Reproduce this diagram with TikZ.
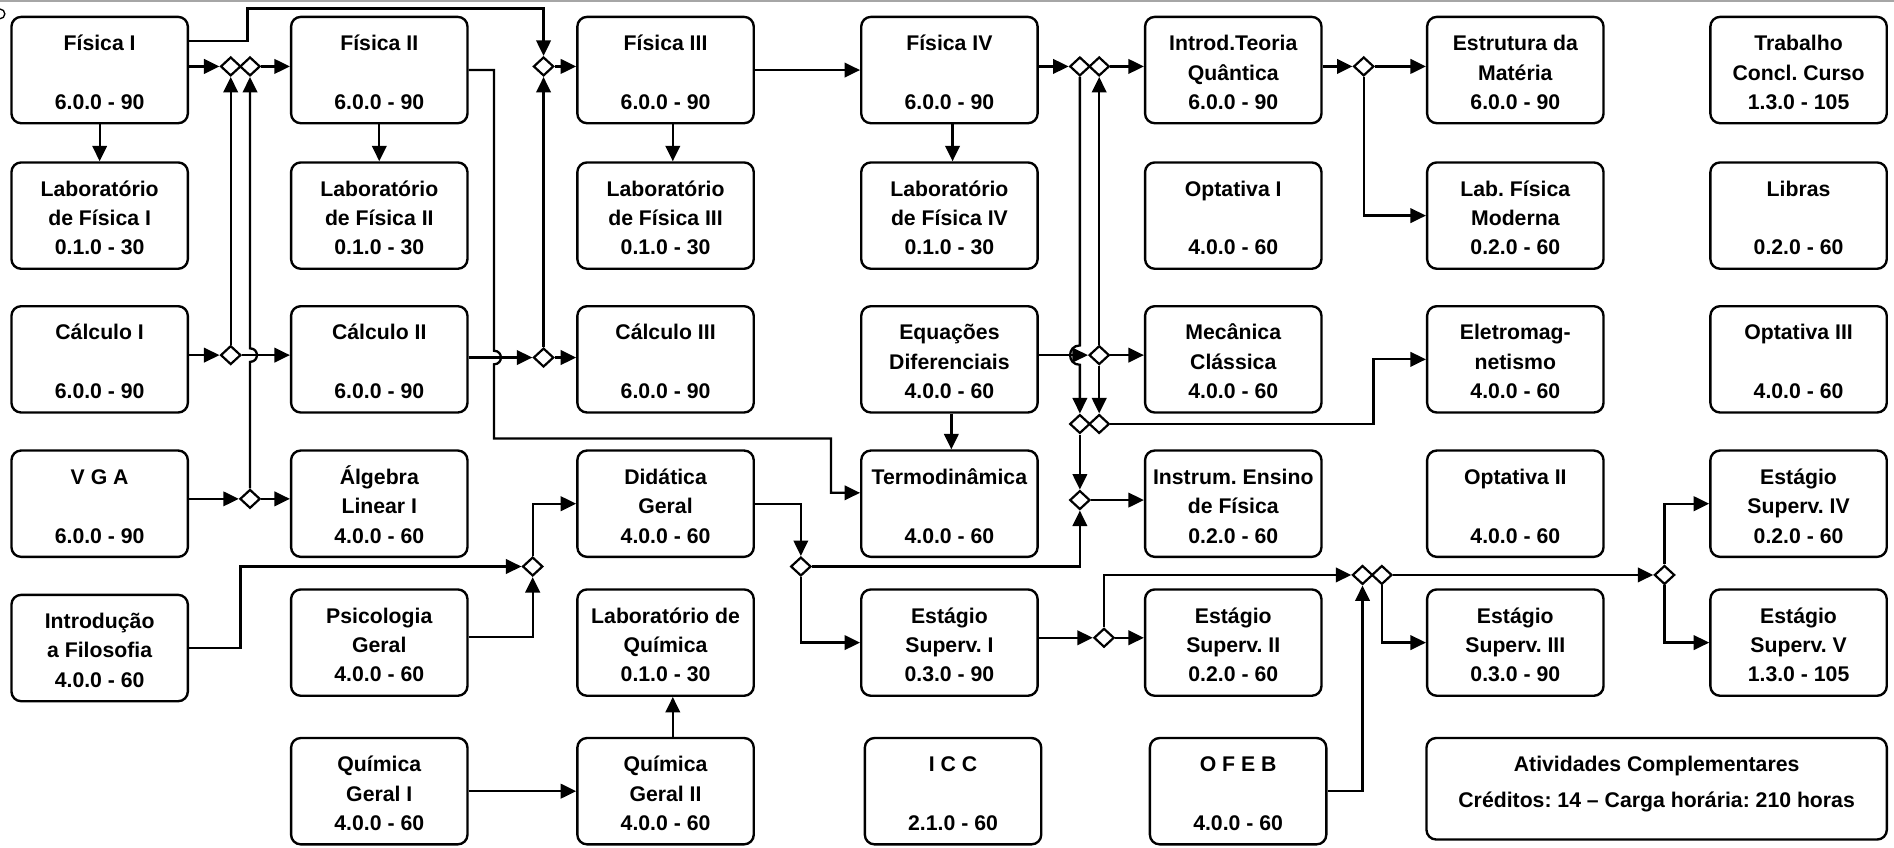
\documentclass[tikz,border=0pt]{standalone}
\usepackage{fontspec}
\setmainfont{Liberation Sans}
\usetikzlibrary{arrows.meta,shapes.geometric,calc}
\newcommand\threel[3]{\begin{tabular}{@{}c@{}}\rule{0pt}{16.9pt}#1\\#2\\#3\end{tabular}}
\tikzset{
  box/.style={draw, rounded corners=0.2cm, line width=1.4pt, minimum width=3.65cm, minimum height=2.2cm, inner sep=0pt, fill=white, font=\fontsize{12.5}{17.3}\selectfont\bfseries\frenchspacing},
  dm/.style={draw, diamond, fill=white, line width=1.3pt, minimum width=0.42cm, minimum height=0.39cm, inner sep=0pt},
  arr/.style={line width=1.35pt, -{Triangle[length=0.32cm,width=0.3cm]}},
}
\begin{document}
\frenchspacing
\begin{tikzpicture}[x=0.025cm, y=-0.025cm]
\useasboundingbox (0,0) rectangle (1568,702);
\fill[white] (0,0) rectangle (1568,702);
\fill[gray!70] (0,0) rectangle (1568,1.4);
\draw[line width=0.8pt] (0,11.5) circle (0.1cm);

% Row A
\node[box] (fis1) at (82.5,58) {\threel{Física I}{}{6.0.0 - 90}};
\node[box] (fis2) at (314,58) {\threel{Física II}{}{6.0.0 - 90}};
\node[box] (fis3) at (551,58) {\threel{Física III}{}{6.0.0 - 90}};
\node[box] (fis4) at (786,58) {\threel{Física IV}{}{6.0.0 - 90}};
\node[box] (itq) at (1021,58) {\threel{Introd.Teoria}{Quântica}{6.0.0 - 90}};
\node[box] (estm) at (1254.5,58) {\threel{Estrutura da}{Matéria}{6.0.0 - 90}};
\node[box] (tcc) at (1489,58) {\threel{Trabalho}{Concl. Curso}{1.3.0 - 105}};
% Row B
\node[box] (lab1) at (82.5,178.5) {\threel{Laboratório}{de Física I}{0.1.0 - 30}};
\node[box] (lab2) at (314,178.5) {\threel{Laboratório}{de Física II}{0.1.0 - 30}};
\node[box] (lab3) at (551,178.5) {\threel{Laboratório}{de Física III}{0.1.0 - 30}};
\node[box] (lab4) at (786,178.5) {\threel{Laboratório}{de Física IV}{0.1.0 - 30}};
\node[box] (opt1) at (1021,178.5) {\threel{Optativa I}{}{4.0.0 - 60}};
\node[box] (labfm) at (1254.5,178.5) {\threel{Lab. Física}{Moderna}{0.2.0 - 60}};
\node[box] (libras) at (1489,178.5) {\threel{Libras}{}{0.2.0 - 60}};
% Row C
\node[box] (calc1) at (82.5,297.5) {\threel{Cálculo I}{}{6.0.0 - 90}};
\node[box] (calc2) at (314,297.5) {\threel{Cálculo II}{}{6.0.0 - 90}};
\node[box] (calc3) at (551,297.5) {\threel{Cálculo III}{}{6.0.0 - 90}};
\node[box] (eqd) at (786,297.5) {\threel{Equações}{Diferenciais}{4.0.0 - 60}};
\node[box] (mec) at (1021,297.5) {\threel{Mecânica}{Clássica}{4.0.0 - 60}};
\node[box] (elet) at (1254.5,297.5) {\threel{Eletromag-}{netismo}{4.0.0 - 60}};
\node[box] (opt3) at (1489,297.5) {\threel{Optativa III}{}{4.0.0 - 60}};
% Row D
\node[box] (vga) at (82.5,417) {\threel{V G A}{}{6.0.0 - 90}};
\node[box] (alg) at (314,417) {\threel{Álgebra}{Linear I}{4.0.0 - 60}};
\node[box] (did) at (551,417) {\threel{Didática}{Geral}{4.0.0 - 60}};
\node[box] (termo) at (786,417) {\threel{Termodinâmica}{}{4.0.0 - 60}};
\node[box] (inst) at (1021,417) {\threel{Instrum. Ensino}{de Física}{0.2.0 - 60}};
\node[box] (opt2) at (1254.5,417) {\threel{Optativa II}{}{4.0.0 - 60}};
\node[box] (est4) at (1489,417) {\threel{Estágio}{Superv. IV}{0.2.0 - 60}};
% Row E
\node[box] (intro) at (82.5,536.5) {\threel{Introdução}{a Filosofia}{4.0.0 - 60}};
\node[box] (psi) at (314,532) {\threel{Psicologia}{Geral}{4.0.0 - 60}};
\node[box] (labq) at (551,532) {\threel{Laboratório de}{Química}{0.1.0 - 30}};
\node[box] (est1) at (786,532) {\threel{Estágio}{Superv. I}{0.3.0 - 90}};
\node[box] (est2) at (1021,532) {\threel{Estágio}{Superv. II}{0.2.0 - 60}};
\node[box] (est3) at (1254.5,532) {\threel{Estágio}{Superv. III}{0.3.0 - 90}};
\node[box] (est5) at (1489,532) {\threel{Estágio}{Superv. V}{1.3.0 - 105}};
% Row F
\node[box] (qg1) at (314,655) {\threel{Química}{Geral I}{4.0.0 - 60}};
\node[box] (qg2) at (551,655) {\threel{Química}{Geral II}{4.0.0 - 60}};
\node[box] (icc) at (789,655) {\threel{I C C}{}{2.1.0 - 60}};
\node[box] (ofeb) at (1025,655) {\threel{O F E B}{}{4.0.0 - 60}};
\node[box, minimum width=9.525cm, minimum height=2.1cm] (ativ) at (1371.5,653)
  {\begin{tabular}{@{}c@{}}Atividades Complementares\\[3.6pt]Créditos: 14 – Carga horária: 210 horas\\[6pt]\end{tabular}};

% diamonds
\node[dm] (d1) at (191,55) {};
\node[dm] (d2) at (207,55) {};
\node[dm] (d3) at (450,55) {};
\node[dm] (dc1) at (191,294) {};
\node[dm] (dv) at (207,413) {};
\node[dm] (dc2) at (450,296) {};
\node[dm] (d4) at (894,55) {};
\node[dm] (d5) at (910,55) {};
\node[dm] (de) at (910,294) {};
\node[dm] (d6) at (894,351) {};
\node[dm] (d7) at (910,351) {};
\node[dm] (di) at (894,414) {};
\node[dm] (dd) at (663,469) {};
\node[dm] (dp) at (441,469) {};
\node[dm] (d8) at (1129,55) {};
\node[dm] (ds1) at (914,528) {};
\node[dm] (ds2) at (1128,476) {};
\node[dm] (ds3) at (1144,476) {};
\node[dm] (ds4) at (1378,476) {};

\coordinate (w1) at (205,7);
\coordinate (x1) at (409,58);
\coordinate (x2) at (409,296);
\coordinate (x3) at (409,363);
\coordinate (t1) at (688,408);
\coordinate (t2) at (1137,297.5);
\coordinate (t3) at (199,469);

% Physics column
\draw[arr] (fis1.south) -- (lab1.north);
\draw[arr] (fis2.south) -- (lab2.north);
\draw[arr] ([xshift=0.15cm]fis3.south) -- ([xshift=0.15cm]lab3.north);
\draw[arr] ([xshift=0.065cm]fis4.south) -- ([xshift=0.065cm]lab4.north);
\draw[arr] ([xshift=0.04cm]eqd.south) -- ([xshift=0.04cm]termo.north);
\draw[arr] ([xshift=0.15cm]qg2.north) -- ([xshift=0.15cm]labq.south);
\draw[arr] (qg1.east) -- (qg2.west);

\draw[arr] (fis1.east |- d1) -- (d1.west);
\draw[arr] (d2.east) -- (d2.east -| fis2.west);
\draw[arr] ([yshift=0.6cm]fis1.east) -| (w1) -| (d3.north);
\draw[arr] (d3.east) -- (d3.east -| fis3.west);
\draw[arr] (calc1.east |- dc1) -- (dc1.west);
\draw[arr] (dc1.east) -- (dc1.east -| calc2.west);
\draw[arr] (dc1.north) -- (d1.south);
\draw[arr] (vga.east |- dv) -- (dv.west);
\draw[arr] (dv.east) -- (dv.east -| alg.west);
\draw[arr] (dv.north) -- ($(dv.north |- dc1)+(0,-0.14cm)$) .. controls +(0.19cm,0) and +(0.19cm,0) .. ($(dv.north |- dc1)+(0,0.14cm)$) -- (d2.south);
\draw[arr] (calc2.east |- dc2) -- (dc2.west);
\draw[arr] (dc2.east) -- (dc2.east -| calc3.west);
\draw[arr] (dc2.north) -- (d3.south);
\draw[arr] (fis2.east) -- (x1) -- ($(x2)+(0,0.14cm)$) .. controls +(0.19cm,0) and +(0.19cm,0) .. ($(x2)+(0,-0.14cm)$) -- (x3) -| (t1) -- (t1 -| termo.west);
\draw[arr] (fis3.east) -- (fis4.west);
\draw[arr] (fis4.east |- d4) -- (d4.west);
\draw[arr] (d5.east) -- (d5.east -| itq.west);
\draw[arr] (d4.south) -- ($(d4.south |- de)+(0,0.2cm)$) .. controls +(-0.27cm,0) and +(-0.27cm,0) .. ($(d4.south |- de)+(0,-0.2cm)$) -- (d6.north);
\draw[arr] (eqd.east |- de) -- (de.west);
\draw[arr] (de.east) -- (de.east -| mec.west);
\draw[arr] (de.north) -- (d5.south);
\draw[arr] (de.south) -- (d7.north);
\draw[arr] (d6.south) -- (di.north);
\draw[arr] (di.east) -- (di.east -| inst.west);
\draw[arr] (d7.east) -| (t2) -- (elet.west);
\draw[arr] (itq.east |- d8) -- (d8.west);
\draw[arr] (d8.east) -- (d8.east -| estm.west);
\draw[arr] (d8.south) |- (labfm.west);
% education
\draw[arr] (did.east) -| (dd.north);
\draw[arr] (dd.east) -| (di.south);
\draw[arr] (dd.south) |- (est1.west);
\draw[arr] ([yshift=0.12cm]psi.east) -| (dp.south);
\draw[arr] (intro.east) -| (t3) -- (dp.west);
\draw[arr] (dp.north) |- (did.west);
% internships
\draw[arr] (est1.east |- ds1) -- (ds1.west);
\draw[arr] (ds1.east) -- (ds1.east -| est2.west);
\draw[arr] (ds1.north) |- (ds2.west);
\draw[arr] (ds3.east) -- (ds4.west);
\draw[arr] (ds4.north) |- (est4.west);
\draw[arr] (ds4.south) |- (est5.west);
\draw[arr] (ds3.south) |- (est3.west);
\draw[arr] (ofeb.east) -| (ds2.south);
\end{tikzpicture}
\end{document}
